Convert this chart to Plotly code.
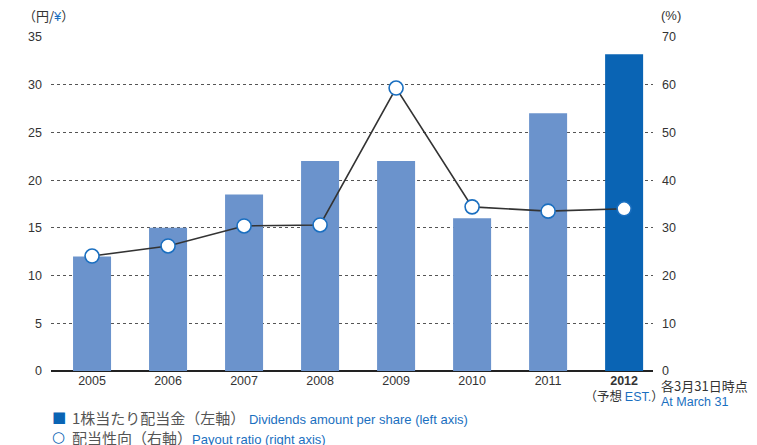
import plotly.graph_objects as go

# データ
years = ["2005", "2006", "2007", "2008", "2009", "2010", "2011", "2012"]
dividends = [12, 15, 18.5, 22, 22, 16, 27, 33.2]
payout = [24.1, 26.2, 30.4, 30.6, 59.3, 34.4, 33.5, 34.0]
left_ticks = [0, 5, 10, 15, 20, 25, 30, 35]
right_ticks = [0, 10, 20, 30, 40, 50, 60, 70]

BLUE = "#1a6fc0"
BAR = "#6b93cc"
BAR_EST = "#0a64b4"
TXT = "#333333"
FONT = "Liberation Sans, Arial"
JP = "Noto Sans CJK JP"

xs = list(range(len(years)))
ticktext = years[:-1] + [
    f"<b>{years[-1]}</b><br><span style='font-family:{JP}'>（予想 </span>"
    f"<span style='color:{BLUE}'>EST.</span><span style='font-family:{JP}'>）</span>"
]

fig = go.Figure()

fig.add_trace(go.Bar(
    x=xs, y=dividends,
    marker_color=[BAR] * (len(years) - 1) + [BAR_EST],
    marker_line_width=0,
    width=0.5,
    yaxis="y",
    showlegend=False,
))

fig.add_trace(go.Scatter(
    x=xs, y=payout,
    mode="lines+markers",
    line=dict(color="#333333", width=1.6),
    marker=dict(size=14, color="white", line=dict(color=BLUE, width=1.6)),
    yaxis="y2",
    showlegend=False,
))

fig.update_layout(
    width=757, height=445,
    margin=dict(l=51, r=104, t=37, b=74, autoexpand=False),
    plot_bgcolor="white", paper_bgcolor="white",
    font=dict(family=FONT, size=13, color=TXT),
    bargap=0.5,
    xaxis=dict(
        range=[-0.54, 7.38],
        tickvals=xs, ticktext=ticktext,
        showgrid=False, zeroline=False,
        showline=False, ticks="", automargin=False,
        tickfont=dict(size=12.5, color=TXT),
    ),
    yaxis=dict(
        range=[0, 35], tickvals=left_ticks,
        showgrid=True, gridcolor="#555555", griddash="dot", gridwidth=1,
        zeroline=True, zerolinecolor="#222222", zerolinewidth=1.5,
        showline=False, ticks="", ticklabelstandoff=8, automargin=False,
        tickfont=dict(size=12.5, color=TXT),
    ),
    yaxis2=dict(
        range=[0, 70], tickvals=right_ticks,
        overlaying="y", side="right",
        showgrid=False, zeroline=False, showline=False, ticks="",
        ticklabelstandoff=8, automargin=False,
        tickfont=dict(size=12.5, color=TXT),
    ),
)

ann = []
# 軸タイトル
ann.append(dict(xref="paper", yref="paper", x=0, xshift=-30, y=1.0, yshift=22,
                xanchor="left", yanchor="middle", showarrow=False,
                text=f"<span style='font-family:{JP}'>（円/</span><span style='color:{BLUE}'>¥</span><span style='font-family:{JP}'>）</span>",
                font=dict(size=13, color=TXT)))
ann.append(dict(xref="paper", yref="paper", x=1.0, xshift=6, y=1.0, yshift=22,
                xanchor="left", yanchor="middle", showarrow=False,
                text="(%)", font=dict(size=13, color=TXT)))
# 注記
ann.append(dict(xref="paper", yref="paper", x=1.0, xshift=6, y=0, yshift=-14,
                xanchor="left", yanchor="middle", showarrow=False,
                text="各3月31日時点", font=dict(size=13, color=TXT, family=JP)))
ann.append(dict(xref="paper", yref="paper", x=1.0, xshift=6, y=0, yshift=-31,
                xanchor="left", yanchor="middle", showarrow=False,
                text="At March 31", font=dict(size=12.5, color=BLUE)))
# 凡例
ann.append(dict(xref="paper", yref="paper", x=0, xshift=-1, y=0, yshift=-46,
                xanchor="left", yanchor="middle", showarrow=False,
                text=f"<span style='color:{BAR_EST}'>■</span>", font=dict(size=15, family="DejaVu Sans")))
ann.append(dict(xref="paper", yref="paper", x=0, xshift=19, y=0, yshift=-46,
                xanchor="left", yanchor="middle", showarrow=False,
                text=f"<span style='font-family:{JP};font-size:15px;color:#555'>1株当たり配当金（左軸）</span> "
                     f"<span style='color:{BLUE}'>Dividends amount per share (left axis)</span>",
                font=dict(size=13, color=TXT)))
ann.append(dict(xref="paper", yref="paper", x=0, xshift=-1, y=0, yshift=-66,
                xanchor="left", yanchor="middle", showarrow=False,
                text=f"<span style='color:{BAR_EST}'>○</span>", font=dict(size=15, family="DejaVu Sans")))
ann.append(dict(xref="paper", yref="paper", x=0, xshift=19, y=0, yshift=-66,
                xanchor="left", yanchor="middle", showarrow=False,
                text=f"<span style='font-family:{JP};font-size:15px;color:#555'>配当性向（右軸）</span>"
                     f"<span style='color:{BLUE}'>Payout ratio (right axis)</span>",
                font=dict(size=13, color=TXT)))
fig.update_layout(annotations=ann)

# ページ余白を消す
fig.write_html("out.html", config={"displayModeBar": False},
               post_script="document.body.style.margin='0';")
